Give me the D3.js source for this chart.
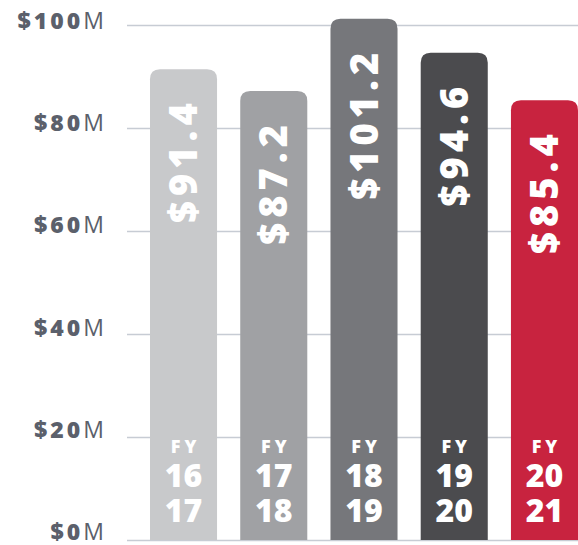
<!DOCTYPE html>
<html>
<head>
<meta charset="utf-8">
<script src="https://cdn.jsdelivr.net/npm/d3@7"></script>
<style>
  body { margin: 0; background: #fff; }
</style>
</head>
<body>
<div class="svg-container"></div>
<script>
//chart data
const years = ['16 17', '17 18', '18 19', '19 20', '20 21'];
const funding = [91.4, 87.2, 101.2, 94.6, 85.4];
const barColors = ['#c8c9cb', '#a0a1a4', '#76777b', '#4b4b4e', '#c8233f'];
const tickValues = [0, 20, 40, 60, 80, 100];

//dimensions
const width = 578, height = 545;
const axisX = 127;

const svg = d3.select('.svg-container')
    .append('svg')
    .attr('width', width)
    .attr('height', height);

//scales
const x = d3.scaleBand()
    .domain(years)
    .range([150, 578])
    .paddingInner(0.257)
    .paddingOuter(0);

const y = d3.scaleLinear()
    .domain([0, 100])
    .range([540, 25]);

//gridlines + labels via axis
const yAxis = d3.axisLeft(y)
    .tickValues(tickValues)
    .tickSize(-(width - axisX))
    .tickPadding(20)
    .tickFormat(d => d);

const gAxis = svg.append('g')
    .attr('transform', `translate(${axisX}, 0)`)
    .call(yAxis);

gAxis.select('.domain').remove();
gAxis.selectAll('.tick line')
    .attr('stroke', '#c7ccd4')
    .attr('stroke-width', 1.5);

//labels drift slightly against the gridlines in the original
gAxis.selectAll('.tick text')
    .attr('fill', '#5b606b')
    .attr('font-family', 'Open Sans')
    .attr('font-size', 23)
    .attr('dy', 0)
    .attr('y', d => d / 25 - 0.5)
    .attr('letter-spacing', 3)
    .each(function(d) {
        const t = d3.select(this).text('');
        t.append('tspan').attr('font-weight', 800).text('$' + d);
        t.append('tspan').attr('font-weight', 500).text('M');
    });

//bars with rounded tops
const r = 10;
function barPath(d, i) {
    const x0 = x(years[i]), x1 = x0 + x.bandwidth();
    const top = y(d), base = y(0);
    return `M${x0},${base} L${x0},${top + r} Q${x0},${top} ${x0 + r},${top}`
        + ` L${x1 - r},${top} Q${x1},${top} ${x1},${top + r} L${x1},${base} Z`;
}

svg.selectAll('.bar')
    .data(funding)
    .join('path')
    .attr('class', 'bar')
    .attr('d', barPath)
    .attr('fill', (d, i) => barColors[i]);

//rotated value labels
svg.selectAll('.value-label')
    .data(funding)
    .join('text')
    .attr('class', 'value-label')
    .attr('transform', (d, i) => `translate(${x(years[i]) + x.bandwidth() / 2}, ${y(d) + 29}) rotate(-90)`)
    .attr('text-anchor', 'end')
    .attr('dy', '0.36em')
    .attr('fill', '#fff')
    .attr('font-family', 'Open Sans')
    .attr('font-weight', 800)
    .attr('font-size', 38)
    .attr('letter-spacing', 5)
    .text(d => '$' + d.toFixed(1));

//FY labels at the bottom of each bar
const fy = svg.selectAll('.fy-label')
    .data(years)
    .join('g')
    .attr('class', 'fy-label')
    .attr('transform', d => `translate(${x(d) + x.bandwidth() / 2}, 0)`)
    .attr('fill', '#fff')
    .attr('font-family', 'Open Sans')
    .attr('font-weight', 800)
    .attr('text-anchor', 'middle');

fy.append('text')
    .attr('y', 453)
    .attr('x', 2)
    .attr('font-size', 18)
    .attr('letter-spacing', 4)
    .text('FY');

fy.append('text')
    .attr('y', 486.5)
    .attr('font-size', 32)
    .text(d => d.split(' ')[0]);

fy.append('text')
    .attr('y', 522)
    .attr('font-size', 32)
    .text(d => d.split(' ')[1]);
</script>
</body>
</html>
